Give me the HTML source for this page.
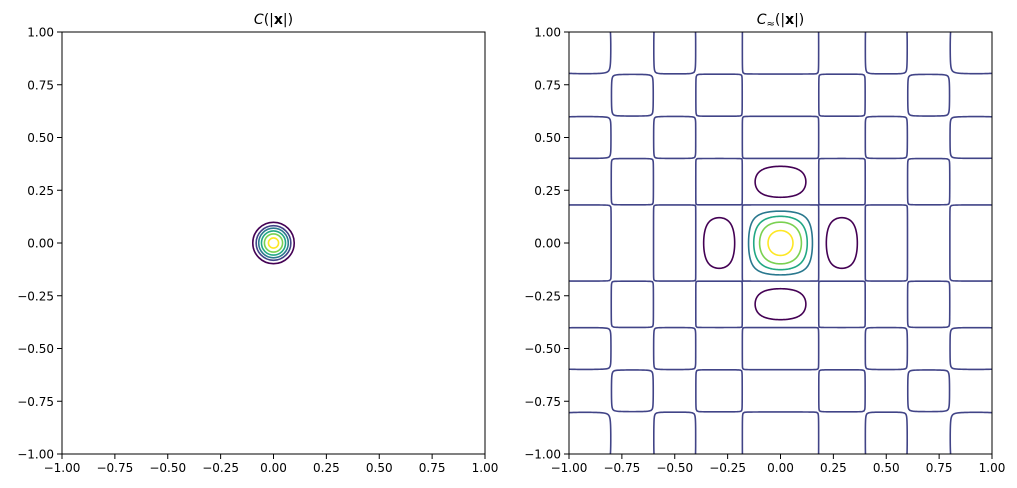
<!DOCTYPE html>
<html><head><meta charset="utf-8"><style>
html,body{margin:0;padding:0;background:#fff;}
svg{display:block;font-family:"DejaVu Sans","Liberation Sans",sans-serif;}
</style></head><body>
<svg id="fig" width="1017" height="488" viewBox="0 0 1017 488" xmlns="http://www.w3.org/2000/svg">
<rect width="1017" height="488" fill="#fff"/>
<g id="left"></g>
<g id="right"></g>
</svg>
<script>
// ---- data ----
const tickValues = [-1, -0.75, -0.5, -0.25, 0, 0.25, 0.5, 0.75, 1];
const tickLabels = ["−1.00","−0.75","−0.50","−0.25","0.00","0.25","0.50","0.75","1.00"];
const levelColors = ["#440154","#414487","#2a788e","#22a884","#7ad151","#fde725"];
// left: exact covariance contour radii (data units), one per level
const leftRadii = [0.098, 0.082, 0.070, 0.057, 0.043, 0.024];
// right: approximated covariance, separable profile f(x)f(y)
const rightLevels = [-0.2, 0.0002, 0.25, 0.45, 0.65, 0.87];
const profileZeros = [0.18, 0.4, 0.6, 0.8, 1.05];
const lobeAmps = [-0.4, 0.15, -0.1, 0.08];

const NS = "http://www.w3.org/2000/svg";
function mk(tag, attrs, parent){const e=document.createElementNS(NS,tag);for(const k in attrs)e.setAttribute(k,attrs[k]);parent.appendChild(e);return e;}

function makeAxes(g, x0, titleHTML){
  const y0=32, w=423, h=422;
  const sx=v=>x0+(v+1)/2*w, sy=v=>y0+h-(v+1)/2*h;
  const plot=mk("g",{},g);
  
  
  const clip=mk("clipPath",{id:"clip"+x0},g);
  mk("rect",{x:x0,y:y0,width:w,height:h},clip);
  plot.setAttribute("clip-path","url(#clip"+x0+")");
  const fr=mk("rect",{x:x0,y:y0,width:w,height:h,fill:"none",stroke:"#000","stroke-width":1},g);
  
  
  tickValues.forEach((v,i)=>{
    const tx=mk("line",{x1:sx(v),x2:sx(v),y1:y0+h,y2:y0+h+5,stroke:"#000"},g);
    
    
    const lx=mk("text",{x:sx(v),y:y0+h+18,"text-anchor":"middle","font-size":"12",fill:"#000"},g);
    lx.textContent=tickLabels[i];
    
    
    const ty=mk("line",{x1:x0-5,x2:x0,y1:sy(v),y2:sy(v),stroke:"#000"},g);
    
    
    const ly=mk("text",{x:x0-8,y:sy(v)+4.5,"text-anchor":"end","font-size":"12",fill:"#000"},g);
    ly.textContent=tickLabels[i];
    
    
  });
  const t=mk("text",{x:x0+w/2,y:24,"text-anchor":"middle","font-size":"14",fill:"#000"},g);
  t.innerHTML=titleHTML;
  
  
  return {sx,sy,plot};
}

// left panel
const L=makeAxes(document.getElementById("left"),62,'<tspan font-style="italic">C</tspan>(|<tspan font-weight="bold">x</tspan>|)');
leftRadii.forEach((r,i)=>{
  const c=mk("ellipse",{cx:L.sx(0),cy:L.sy(0),rx:L.sx(r)-L.sx(0),ry:L.sy(0)-L.sy(r),fill:"none",stroke:levelColors[i],"stroke-width":1.6},L.plot);
  
  
});

// right panel
const R=makeAxes(document.getElementById("right"),569,'<tspan font-style="italic">C</tspan><tspan font-size="10" dy="3">≈</tspan><tspan dy="-3">(|</tspan><tspan font-weight="bold">x</tspan>|)');
function prof(x){
  x=Math.abs(x);
  if(x<profileZeros[0]) return Math.cos(Math.PI*x/(2*profileZeros[0]));
  for(let i=0;i<lobeAmps.length;i++){
    const a=profileZeros[i], b=profileZeros[i+1];
    if(x<b) return lobeAmps[i]*Math.sin(Math.PI*(x-a)/(b-a));
  }
  return 0;
}
const N=300, xs=[], fv=[];
for(let i=0;i<=N;i++){const v=-1.02+2.04*i/N;xs.push(v);fv.push(prof(v));}
const G=[];for(let j=0;j<=N;j++){const row=[];for(let i=0;i<=N;i++)row.push(fv[i]*fv[j]);G.push(row);}
rightLevels.forEach((lev,li)=>{
  let d="";
  const px=(i,j,i2,j2)=>{const a=G[j][i]-lev,b=G[j2][i2]-lev,t=a/(a-b);
    return [R.sx(xs[i]+(xs[i2]-xs[i])*t),R.sy(xs[j]+(xs[j2]-xs[j])*t)];};
  for(let j=0;j<N;j++)for(let i=0;i<N;i++){
    const v0=G[j][i]>lev,v1=G[j][i+1]>lev,v2=G[j+1][i+1]>lev,v3=G[j+1][i]>lev;
    const pts=[];
    if(v0!==v1)pts.push(px(i,j,i+1,j));
    if(v1!==v2)pts.push(px(i+1,j,i+1,j+1));
    if(v2!==v3)pts.push(px(i+1,j+1,i,j+1));
    if(v3!==v0)pts.push(px(i,j+1,i,j));
    for(let k=0;k+1<pts.length;k+=2)
      d+="M"+pts[k][0].toFixed(2)+" "+pts[k][1].toFixed(2)+"L"+pts[k+1][0].toFixed(2)+" "+pts[k+1][1].toFixed(2);
  }
  const p=mk("path",{d:d,fill:"none",stroke:levelColors[li],"stroke-width":1.6,"stroke-linecap":"round"},R.plot);
  
  
});
</script>
</body></html>
